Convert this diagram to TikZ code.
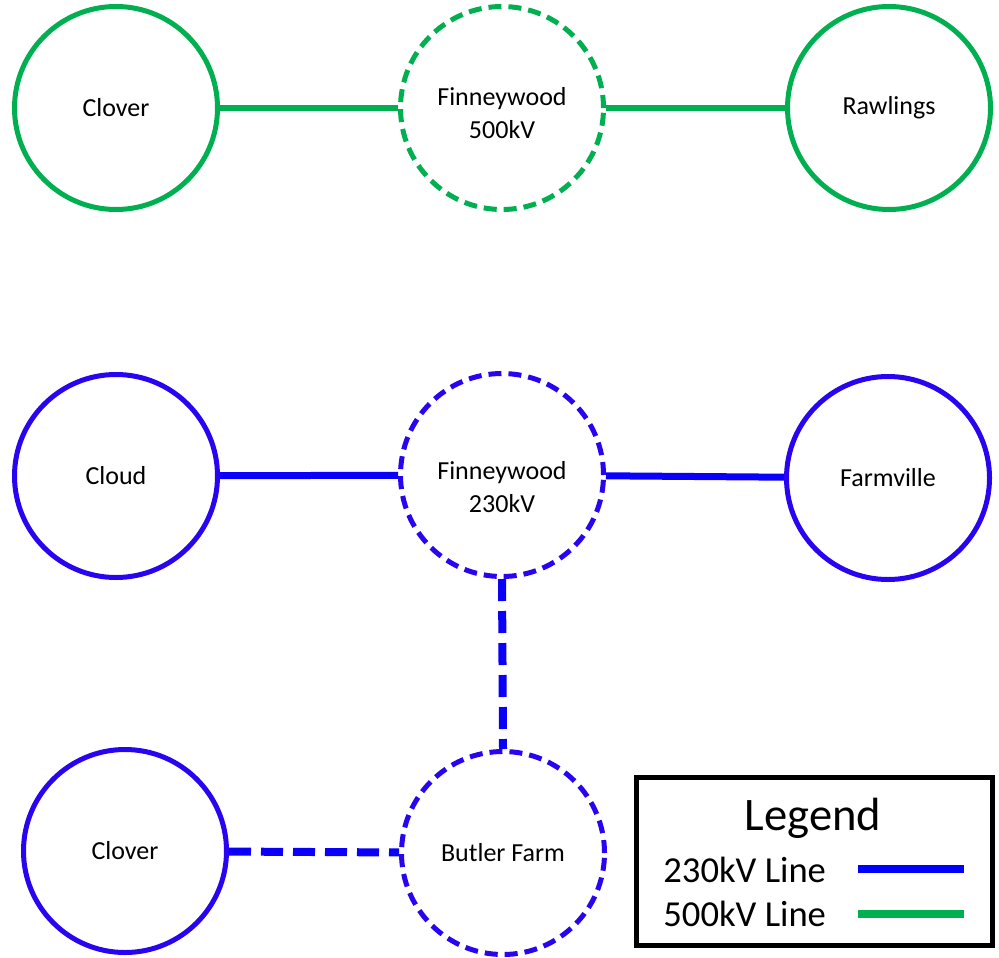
\documentclass[tikz,border=0pt]{standalone}
\usepackage{fontspec}
\setmainfont{Carlito}
\definecolor{gline}{RGB}{0,176,80}
\definecolor{bcirc}{RGB}{40,5,240}
\definecolor{bline}{RGB}{10,0,250}
\begin{document}
\begin{tikzpicture}[x=0.5pt,y=-0.5pt,
  bus/.style={circle,draw,line width=2.5pt,minimum size=101.5pt,inner sep=0pt,
    font=\fontsize{13}{16.5}\selectfont,align=center,fill=white},
  dbus/.style={bus,dash pattern=on 6.5pt off 3.5pt},
  gbus/.style={draw=gline},
  bbus/.style={draw=bcirc},
  btext/.style={font=\fontsize{13}{16.5}\selectfont,align=center,inner sep=0pt},
  gconn/.style={draw=gline,line width=3.2pt},
  bconn/.style={draw=bline,line width=3.5pt},
  dconn/.style={draw=bline,line width=4pt,dash pattern=on 11pt off 5pt},
  legtext/.style={font=\fontsize{18.3}{20}\selectfont,anchor=base west,inner sep=0pt}]
\useasboundingbox (0,0) rectangle (999,957);
% top row
\node[bus,gbus] (clover1) at (116,108) {Clover};
\node[dbus,gbus,label={[btext,name=fw500t,yshift=-2.5pt]center:Finneywood\\500kV}] (fw500) at (502,108) {};
\node[bus,gbus] (rawlings) at (889,108) {Rawlings};
% middle row
\node[bus,bbus] (cloud) at (116,476) {Cloud};
\node[dbus,bbus,label={[btext,name=fw230t,yshift=-6pt]center:Finneywood\\230kV}] (fw230) at (502,475) {};
\node[bus,bbus] (farmville) at (888,478) {Farmville};
% bottom row
\node[bus,bbus] (clover2) at (125,851) {Clover};
\node[dbus,bbus] (butler) at (503,853) {Butler Farm};
% connectors
\draw[gconn] (clover1) -- (fw500);
\draw[gconn] (fw500) -- (rawlings);
\draw[bconn] (cloud) -- (fw230);
\draw[bconn] (fw230) -- (farmville);
\draw[dconn] (fw230.south) -- (butler.north);
\draw[dconn] (clover2) -- (butler);
% legend
\node[draw=black,line width=2.5pt,minimum width=178pt,minimum height=84pt,inner sep=0pt] (legend) at (814,861.5) {};
\node[font=\fontsize{23.3}{26}\selectfont,inner sep=0pt] (legtitle) at (813,818) {Legend};
\node[legtext] (l230) at (663,882) {230kV Line};
\node[legtext] (l500) at (663,926) {500kV Line};
\coordinate (a1) at (858,869);
\coordinate (a2) at (964,869);
\coordinate (b1) at (858,914);
\coordinate (b2) at (964,914);
\draw[draw=blue,line width=4pt] (a1) -- (a2);
\draw[draw=gline,line width=4pt] (b1) -- (b2);
\end{tikzpicture}
\end{document}
